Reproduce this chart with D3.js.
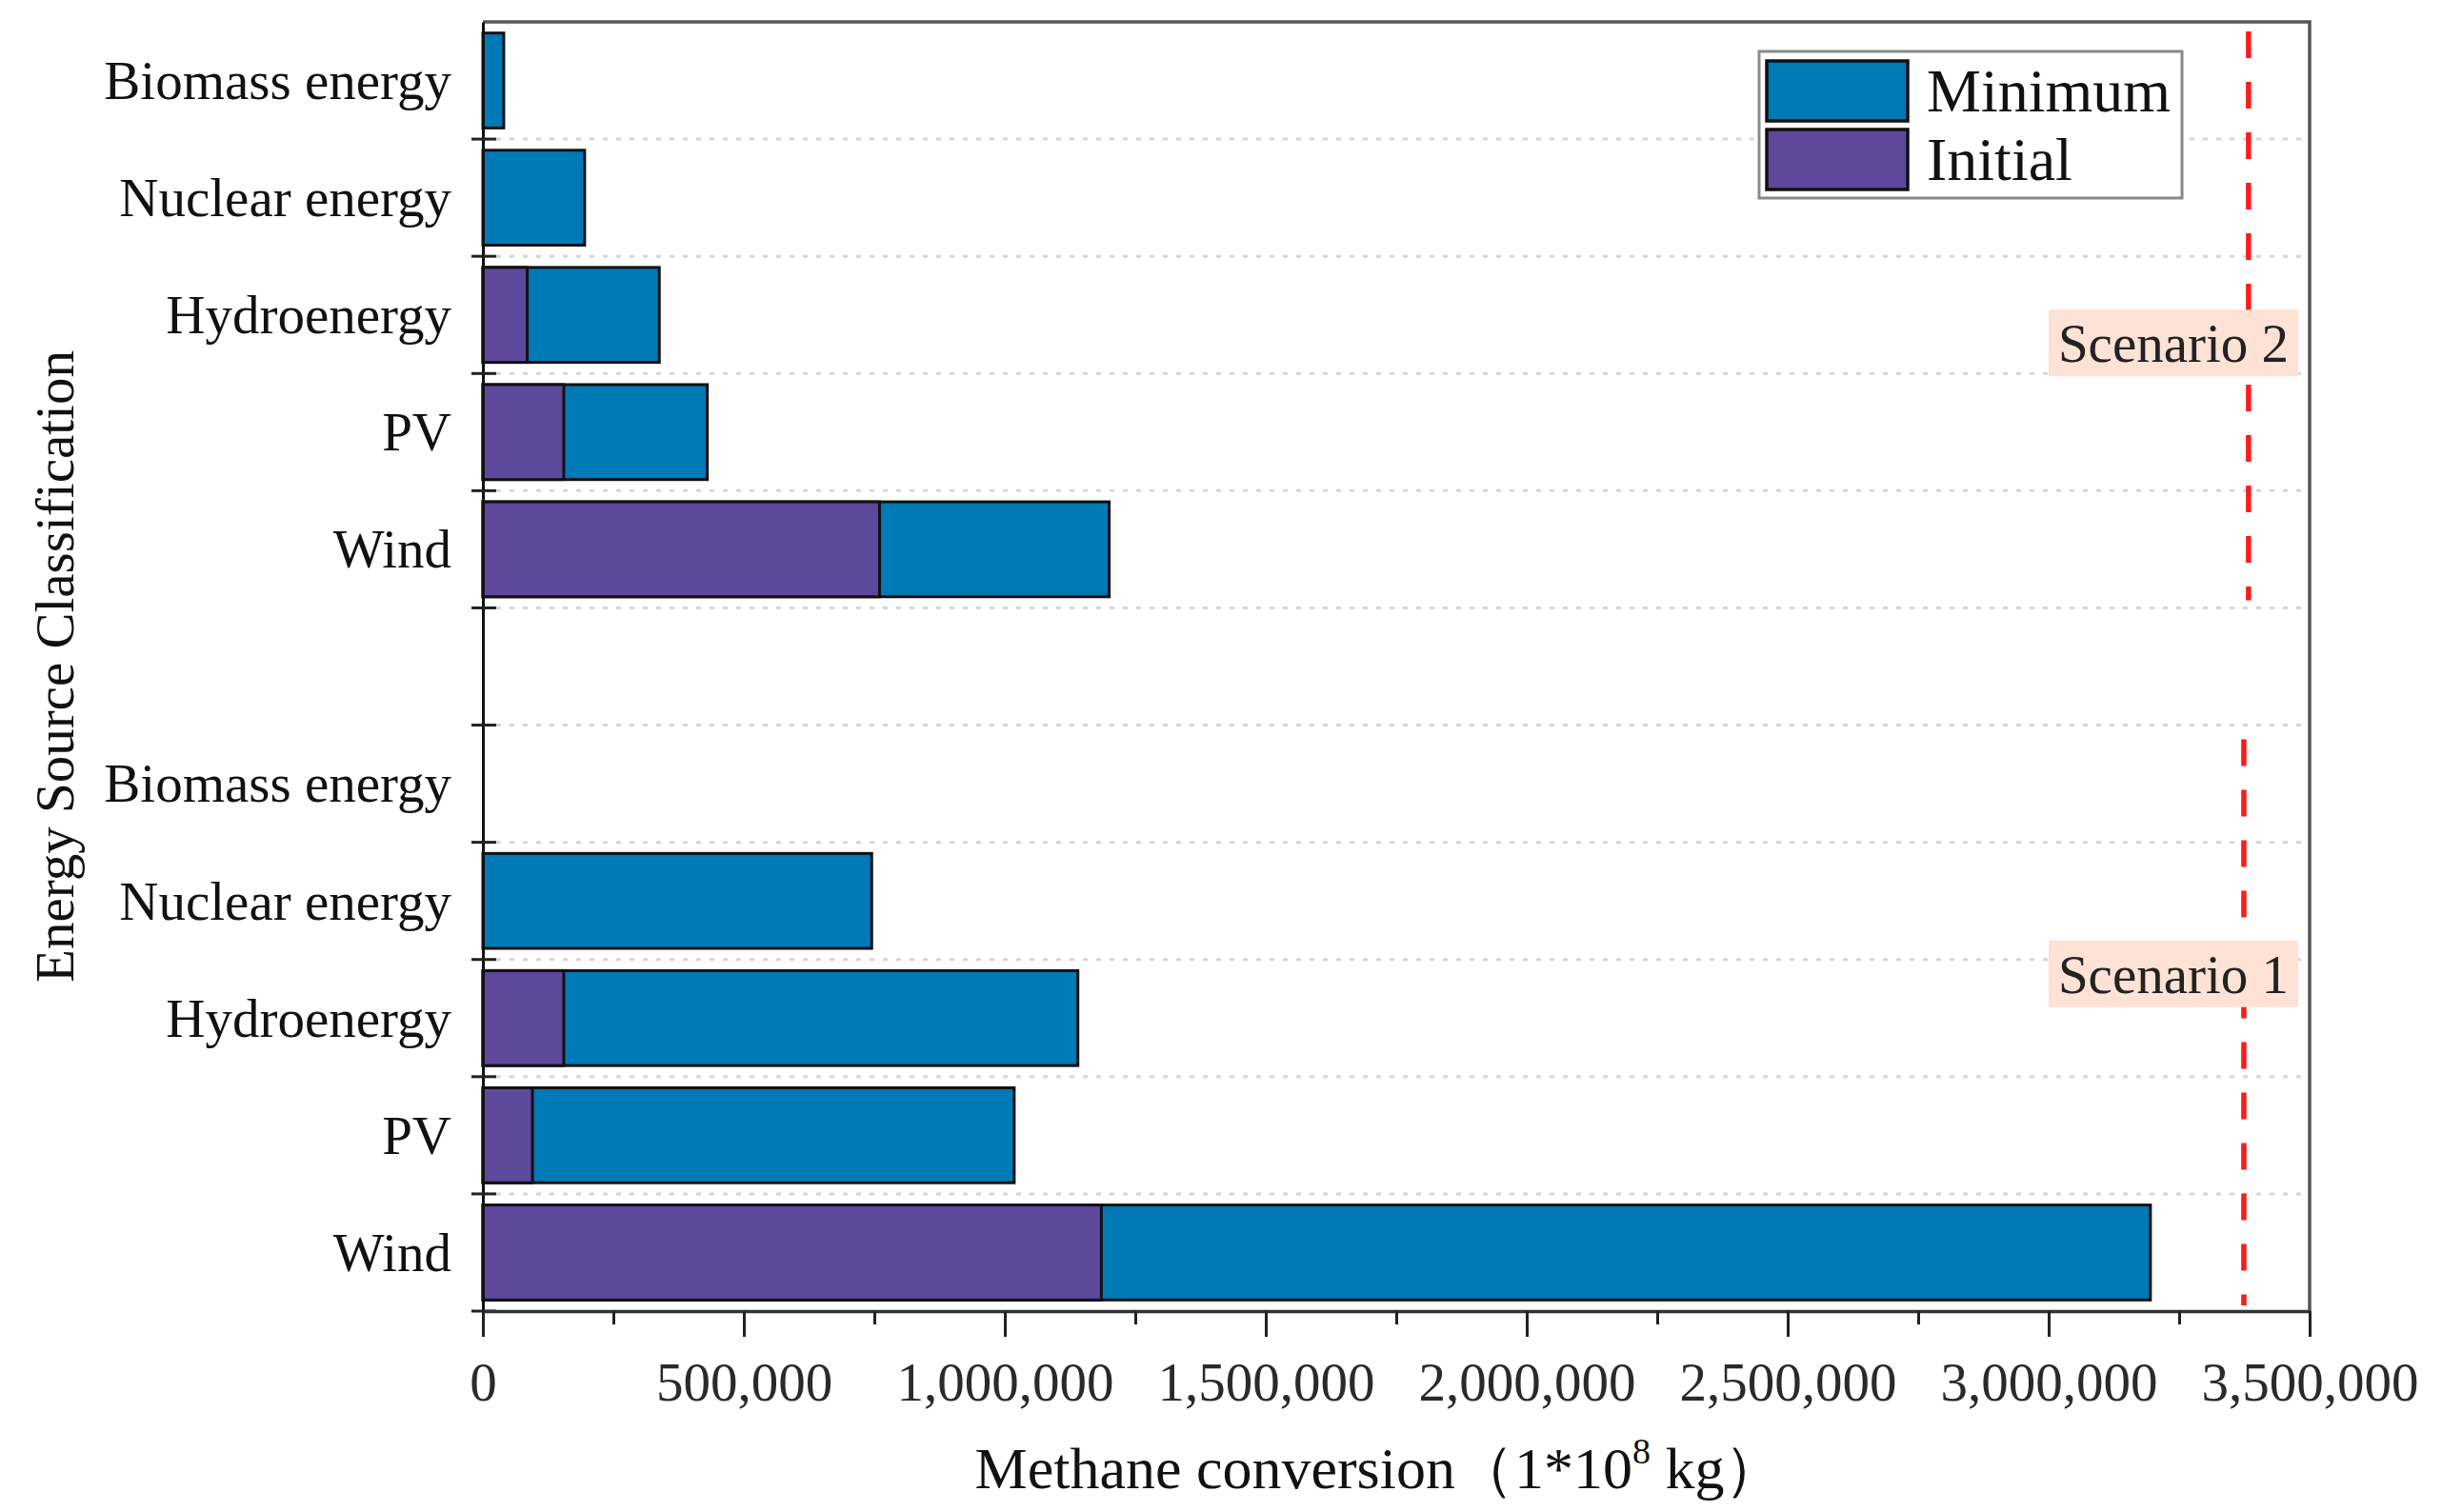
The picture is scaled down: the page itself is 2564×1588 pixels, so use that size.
<!DOCTYPE html>
<html lang="en">
<head>
<meta charset="UTF-8">
<title>Methane conversion by energy source</title>
<script src="https://d3js.org/d3.v7.min.js"></script>
<style>
  body { margin: 0; background: #fff; }
  text { font-family: "Liberation Serif", "Times New Roman", serif; }
</style>
</head>
<body>
<div id="chart"></div>
<script>
// values
const categories = ["Biomass energy", "Nuclear energy", "Hydroenergy", "PV", "Wind"];
const scenario2Minimum = [40000, 195000, 338000, 430000, 1200000];
const scenario2Initial = [0, 0, 85000, 155000, 760000];
const scenario1Minimum = [0, 745000, 1140000, 1018000, 3195000];
const scenario1Initial = [0, 0, 155000, 95000, 1185000];
const scenarioNames = ["Scenario 2", "Scenario 1"];
const scenarioLimits = [3383000, 3374000];
const xTicks = [0, 500000, 1000000, 1500000, 2000000, 2500000, 3000000, 3500000];
const xMinorTicks = [250000, 750000, 1250000, 1750000, 2250000, 2750000, 3250000];
const seriesNames = ["Minimum", "Initial"];
const seriesColors = ["#0079b7", "#5e489c"];

const W = 2564, H = 1588;
const margin = { top: 23, right: 139, bottom: 211, left: 507 };
const plotLeft = margin.left, plotRight = W - margin.right;
const plotTop = margin.top, plotBottom = H - margin.bottom;

const svg = d3.select("#chart").append("svg")
  .attr("width", W).attr("height", H);

// rows from top to bottom: scenario 2, an empty slot, scenario 1
const keys = categories.map(c => "S2|" + c)
  .concat(["gap"])
  .concat(categories.map(c => "S1|" + c));

const rows = categories.map((c, i) => ({ key: "S2|" + c, minimum: scenario2Minimum[i], initial: scenario2Initial[i] }))
  .concat(categories.map((c, i) => ({ key: "S1|" + c, minimum: scenario1Minimum[i], initial: scenario1Initial[i] })));

const x = d3.scaleLinear().domain([0, 3500000]).range([plotLeft, plotRight]);
const y = d3.scaleBand().domain(keys).range([plotTop, plotBottom]).padding(0);
const step = y.step();
const barH = step * 0.81, barOff = step * 0.095;

// dotted grid lines at the row boundaries
const bounds = d3.range(1, keys.length).map(i => plotTop + i * step);
svg.append("g").selectAll("line").data(bounds).join("line")
  .attr("x1", plotLeft).attr("x2", plotRight)
  .attr("y1", d => d).attr("y2", d => d)
  .attr("stroke", "#d6d6d6").attr("stroke-width", 3)
  .attr("stroke-dasharray", "5,9");

// bars: minimum behind, initial on top
const bars = svg.append("g");
bars.selectAll("rect.min").data(rows.filter(d => d.minimum > 0)).join("rect")
  .attr("class", "min")
  .attr("x", x(0))
  .attr("y", d => y(d.key) + barOff)
  .attr("width", d => x(d.minimum) - x(0))
  .attr("height", barH)
  .attr("fill", seriesColors[0])
  .attr("stroke", "#111").attr("stroke-width", 3);
bars.selectAll("rect.ini").data(rows.filter(d => d.initial > 0)).join("rect")
  .attr("class", "ini")
  .attr("x", x(0))
  .attr("y", d => y(d.key) + barOff)
  .attr("width", d => x(d.initial) - x(0))
  .attr("height", barH)
  .attr("fill", seriesColors[1])
  .attr("stroke", "#111").attr("stroke-width", 3);

// frame (top and right)
svg.append("path")
  .attr("d", `M${plotLeft},${plotTop}H${plotRight}V${plotBottom}`)
  .attr("fill", "none").attr("stroke", "#555").attr("stroke-width", 3.5);

// scenario limit lines
const groups = [categories.map(c => "S2|" + c), categories.map(c => "S1|" + c)];
const limitInset = [[10, 8], [15, 6]];
svg.append("g").selectAll("line").data(scenarioLimits).join("line")
  .attr("x1", d => x(d)).attr("x2", d => x(d))
  .attr("y1", (d, i) => y(groups[i][0]) + limitInset[i][0])
  .attr("y2", (d, i) => y(groups[i][4]) + step - limitInset[i][1])
  .attr("stroke", "#ff1a1a").attr("stroke-width", 5.5)
  .attr("stroke-dasharray", "28,25");

// scenario labels
const labelY = [y("S2|PV") - 32, y("S1|Hydroenergy") + 15];
const lab = svg.append("g").selectAll("g").data(scenarioNames).join("g")
  .attr("transform", (d, i) => `translate(${plotRight - 143},${labelY[i]})`);
lab.append("rect")
  .attr("x", -131).attr("y", -35).attr("width", 262).attr("height", 70)
  .attr("fill", "#fde2d5");
lab.append("text")
  .attr("text-anchor", "middle").attr("y", 20)
  .attr("font-size", 57).attr("fill", "#222")
  .text(d => d);

// y axis with category labels
const yAxis = svg.append("g")
  .attr("transform", `translate(${plotLeft},0)`)
  .call(d3.axisLeft(y).tickSize(0).tickPadding(33)
    .tickFormat(k => k === "gap" ? "" : k.split("|")[1]));
yAxis.select(".domain").attr("stroke", "#111").attr("stroke-width", 3);
yAxis.selectAll("text")
  .attr("font-family", "'Liberation Serif', 'Times New Roman', serif")
  .attr("font-size", 57).attr("fill", "#111").attr("dy", "0.34em");
svg.append("g").selectAll("line").data(bounds.concat([plotBottom])).join("line")
  .attr("x1", plotLeft - 12).attr("x2", plotLeft + 14)
  .attr("y1", d => d).attr("y2", d => d)
  .attr("stroke", "#222").attr("stroke-width", 3);

// x axis
const xAxis = svg.append("g")
  .attr("transform", `translate(0,${plotBottom})`)
  .call(d3.axisBottom(x).tickValues(xTicks).tickSize(27).tickSizeOuter(0)
    .tickFormat(d3.format(",")));
xAxis.select(".domain").attr("stroke", "#333").attr("stroke-width", 3.5);
xAxis.selectAll(".tick line").attr("stroke", "#222").attr("stroke-width", 3);
xAxis.selectAll("text")
  .attr("font-family", "'Liberation Serif', 'Times New Roman', serif")
  .attr("font-size", 57).attr("fill", "#2a2a2a")
  .attr("y", 94).attr("dy", 0);
const xMinor = svg.append("g")
  .attr("transform", `translate(0,${plotBottom})`)
  .call(d3.axisBottom(x).tickValues(xMinorTicks).tickSize(14).tickSizeOuter(0).tickFormat(""));
xMinor.select(".domain").remove();
xMinor.selectAll(".tick line").attr("stroke", "#222").attr("stroke-width", 3);

// axis titles
const xTitle = svg.append("text")
  .attr("x", 1448).attr("y", 1563)
  .attr("text-anchor", "middle")
  .attr("font-size", 62).attr("fill", "#111");
xTitle.append("tspan").text("Methane conversion\uFF081*10");
xTitle.append("tspan").attr("font-size", 38).attr("dy", -26).text("8");
xTitle.append("tspan").attr("dy", 26).text(" kg\uFF09");

svg.append("text")
  .attr("transform", `translate(57,${(plotTop + plotBottom) / 2}) rotate(-90)`)
  .attr("text-anchor", "middle").attr("dy", "0.35em")
  .attr("font-size", 57).attr("fill", "#111")
  .text("Energy Source Classification");

// legend
const legend = svg.append("g").attr("transform", "translate(1847,54)");
legend.append("rect")
  .attr("width", 444).attr("height", 154)
  .attr("fill", "#fff").attr("stroke", "#8a8a8a").attr("stroke-width", 3);
const item = legend.selectAll("g").data(seriesNames).join("g")
  .attr("transform", (d, i) => `translate(8,${10 + i * 72})`);
item.append("rect")
  .attr("width", 148).attr("height", 63)
  .attr("fill", (d, i) => seriesColors[i])
  .attr("stroke", "#111").attr("stroke-width", 3.5);
item.append("text")
  .attr("x", 168).attr("y", 53)
  .attr("font-size", 64).attr("fill", "#111")
  .text(d => d);
</script>
</body>
</html>
